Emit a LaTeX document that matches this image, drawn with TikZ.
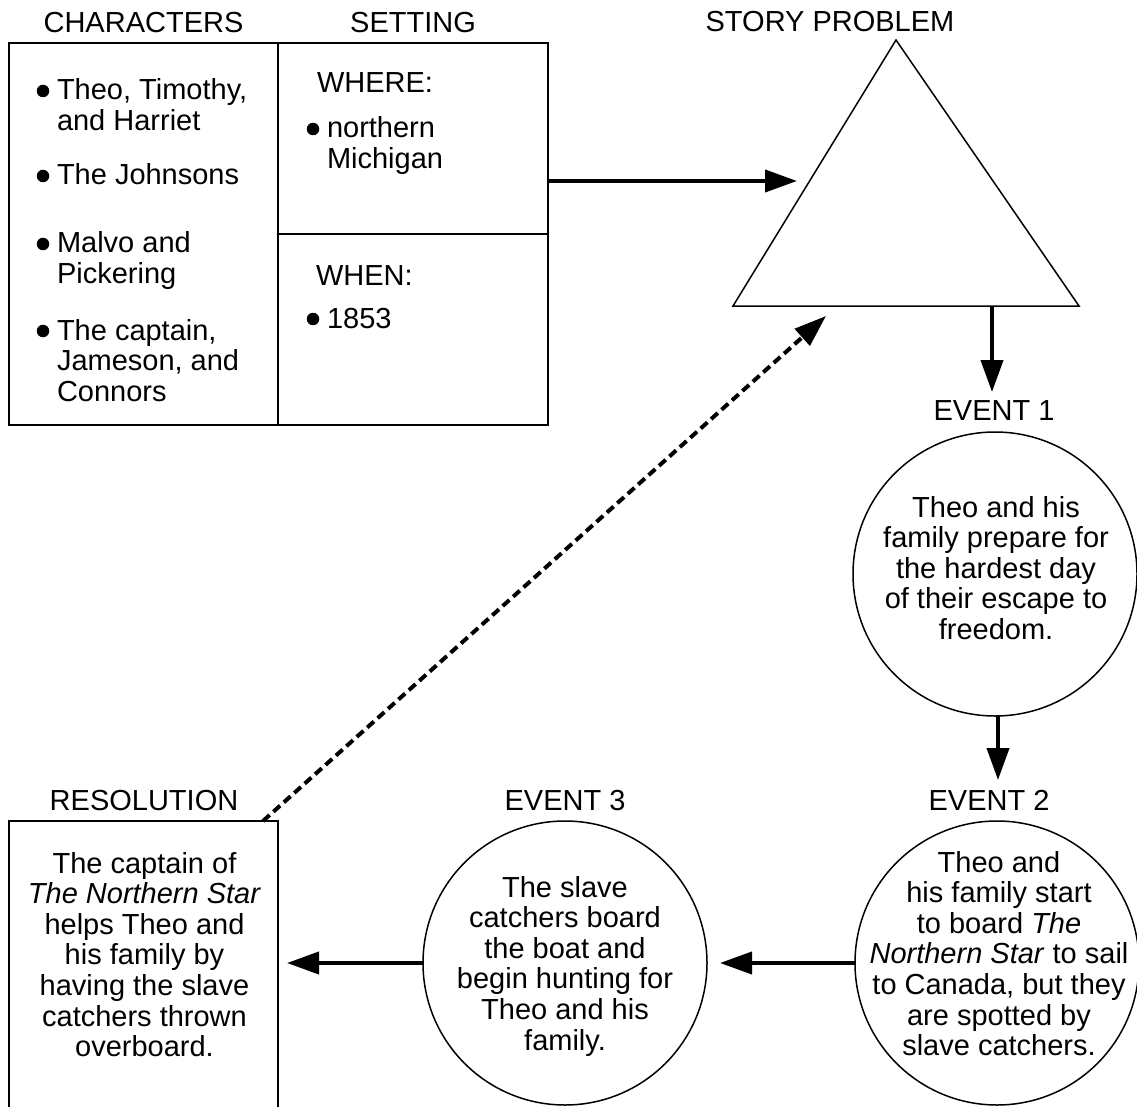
\documentclass[tikz,border=0pt]{standalone}
\usepackage{fontspec}
\setmainfont{Liberation Sans}
\usetikzlibrary{arrows.meta}
\newcommand{\txtblock}[1]{\parbox[t]{320pt}{\centering #1}}
\newcommand{\lftblock}[1]{\parbox[t]{240pt}{\raggedright #1}}
\tikzset{
  every node/.style={inner sep=0pt, outer sep=0pt, font=\fontsize{29}{30.6}\selectfont},
  frame/.style={draw, line width=2pt},
  eventcircle/.style={circle, draw, line width=1.5pt, minimum size=284pt},
  hdr/.style={anchor=base},
  body/.style={anchor=base},
  lbody/.style={anchor=base west},
  bul/.style={circle, fill=black, minimum size=12.5pt},
  arr/.style={line width=4pt, -{Triangle[length=32pt,width=22pt]}},
  dasharr/.style={line width=4pt, dash pattern=on 9pt off 5pt, -{Triangle[length=32pt,width=22pt]}},
}
\begin{document}
\begin{tikzpicture}[x=1pt, y=-1pt]
\useasboundingbox (0,0) rectangle (1137,1107);
\fill[white] (0,0) rectangle (1137,1107);
\clip (0,0) rectangle (1137,1107);

% headers
\node[hdr] (hchar) at (143.5,33) {CHARACTERS};
\node[hdr] (hset) at (413,33) {SETTING};
\node[hdr] (hprob) at (830,32) {STORY PROBLEM};
\node[hdr] (hev1) at (994,420) {EVENT 1};
\node[hdr] (hev2) at (989,810) {EVENT 2};
\node[hdr] (hev3) at (565,810) {EVENT 3};
\node[hdr] (hres) at (144,810) {RESOLUTION};

% characters and setting boxes
\node[frame, anchor=north west, minimum width=269pt, minimum height=382pt] (chars) at (9,43) {};
\node[frame, anchor=north west, minimum width=270pt, minimum height=191pt] (where) at (278,43) {};
\node[frame, anchor=north west, minimum width=270pt, minimum height=191pt] (when) at (278,234) {};

% character items
\node[bul] (b1) at (43,91) {};
\node[lbody] (c1) at (57,100) {\lftblock{Theo, Timothy,\\and Harriet}};
\node[bul] (b2) at (43,176) {};
\node[lbody] (c2) at (57,185) {\lftblock{The Johnsons}};
\node[bul] (b3) at (43,244) {};
\node[lbody] (c3) at (57,253) {\lftblock{Malvo and\\Pickering}};
\node[bul] (b4) at (43,331) {};
\node[lbody] (c4) at (57,340) {\lftblock{The captain,\\Jameson, and\\Connors}};

% setting items
\node[lbody] (wh) at (317,93) {WHERE:};
\node[bul] (b5) at (313,129) {};
\node[lbody] (s1) at (327,138) {\lftblock{northern\\Michigan}};
\node[lbody] (wn) at (316,285) {WHEN:};
\node[bul] (b6) at (313,319) {};
\node[lbody] (s2) at (327,328) {1853};

% story problem triangle
\coordinate (tA) at (896,40);
\coordinate (tL) at (733,306);
\coordinate (tR) at (1079,306);
\draw[line width=1.5pt, line join=miter] (tA) -- (tL) -- (tR) -- cycle;

% events
\node[eventcircle] (ev1) at (995,574) {};
\node[body] (ev1t) at (996,517) {\txtblock{Theo and his\\family prepare for\\the hardest day\\of their escape to\\freedom.}};

\node[eventcircle] (ev2) at (997,963) {};
\node[body] (ev2t) at (999,872) {\txtblock{Theo and\\his family start\\to board \textit{The}\\\textit{Northern Star} to sail\\to Canada, but they\\are spotted by\\slave catchers.}};

\node[eventcircle] (ev3) at (565,963) {};
\node[body] (ev3t) at (565,897) {\txtblock{The slave\\catchers board\\the boat and\\begin hunting for\\Theo and his\\family.}};

% resolution
\node[frame, anchor=north west, minimum width=269pt, minimum height=300pt] (res) at (9,821) {};
\node[body] (rest) at (144.5,873) {\txtblock{The captain of\\\textit{The Northern Star}\\helps Theo and\\his family by\\having the slave\\catchers thrown\\overboard.}};

% connectors
\coordinate (p1s) at (where.east |- 0,181);
\coordinate (p1e) at (797,181);
\draw[arr] (p1s) -- (p1e);

\coordinate (p2s) at (992,306);
\coordinate (p2e) at (992,392);
\draw[arr] (p2s) -- (p2e);

\coordinate (p3s) at (ev1.south -| 998,0);
\coordinate (p3e) at (998,780);
\draw[arr] (p3s) -- (p3e);

\coordinate (p4s) at (ev2.west);
\coordinate (p4e) at (720,963);
\draw[arr] (p4s) -- (p4e);

\coordinate (p5s) at (ev3.west);
\coordinate (p5e) at (287,963);
\draw[arr] (p5s) -- (p5e);

\coordinate (p6s) at (263,821);
\coordinate (p6e) at (826,316);
\draw[dasharr] (p6s) -- (p6e);
\end{tikzpicture}
\end{document}
